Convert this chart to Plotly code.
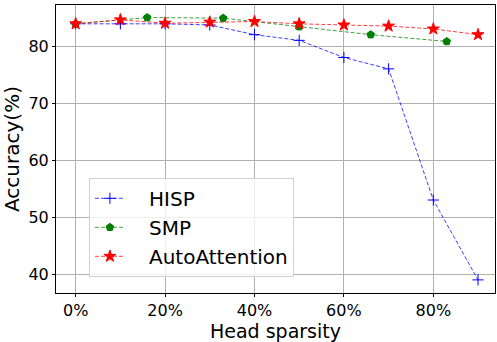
import plotly.graph_objects as go

hisp_x = [0, 10, 20, 30, 40, 50, 60, 70, 80, 90]
hisp_y = [83.9, 83.9, 83.9, 83.7, 82.0, 81.0, 78.0, 76.0, 53.0, 39.0]
smp_x = [0, 16, 33, 50, 66, 83]
smp_y = [83.9, 85.0, 84.9, 83.4, 82.0, 80.8]
auto_x = [0, 10, 20, 30, 40, 50, 60, 70, 80, 90]
auto_y = [83.9, 84.6, 84.0, 84.2, 84.3, 83.9, 83.7, 83.5, 83.0, 82.0]

x_ticks = [0, 20, 40, 60, 80]
x_tick_labels = ["0%", "20%", "40%", "60%", "80%"]
y_ticks = [40, 50, 60, 70, 80]

fig = go.Figure()
series = [
    ("HISP", hisp_x, hisp_y, "0,0,255", "cross-thin", 8),
    ("SMP", smp_x, smp_y, "0,128,0", "pentagon", 8),
    ("AutoAttention", auto_x, auto_y, "255,0,0", "star", 9),
]
for name, xs, ys, col, sym, sz in series:
    fig.add_trace(go.Scatter(
        x=xs, y=ys, name="   " + name, mode="lines+markers",
        line=dict(color=f"rgba({col},0.75)", width=1, dash="4px,2px"),
        marker=dict(symbol=sym, size=sz, color=f"rgb({col})",
                    line=dict(color=f"rgb({col})", width=1)),
    ))

axis_common = dict(
    showline=True, linecolor="black", linewidth=1, mirror=True,
    showgrid=True, gridcolor="#b0b0b0", gridwidth=1,
    ticks="outside", ticklen=3, tickcolor="black",
    tickfont=dict(family="DejaVu Sans", size=16, color="black"),
    zeroline=False,
)
fig.update_layout(
    width=497, height=342,
    margin=dict(l=56, r=1, t=5, b=45),
    paper_bgcolor="white", plot_bgcolor="white",
    font=dict(family="DejaVu Sans", color="black"),
    xaxis=dict(range=[-4.4, 93.8], tickvals=x_ticks, ticktext=x_tick_labels,
               title=dict(text="Head sparsity", font=dict(size=19), standoff=7), **axis_common),
    yaxis=dict(range=[36.7, 87.2], tickvals=y_ticks,
               title=dict(text="Accuracy(%)", font=dict(size=20), standoff=4), **axis_common),
    legend=dict(x=0.075, y=0.40, xanchor="left", yanchor="top",
                bgcolor="rgba(255,255,255,0.8)", bordercolor="#d0d0d0", borderwidth=1,
                font=dict(size=20, family="DejaVu Sans"), itemsizing="trace",
                tracegroupgap=0),
    showlegend=True,
)
fig.write_html("out.html")
